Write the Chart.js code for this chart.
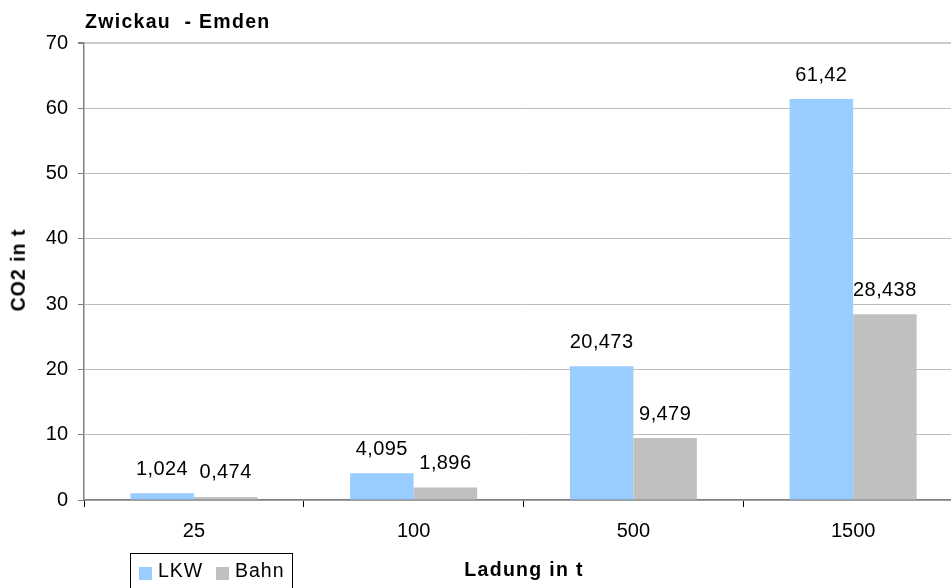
<!DOCTYPE html>
<html>
<head>
<meta charset="utf-8">
<script src="https://cdn.jsdelivr.net/npm/chart.js@4/dist/chart.umd.min.js"></script>
<style>
  html, body { margin: 0; padding: 0; background: #fff; overflow: hidden; }
  #wrap { position: relative; width: 951px; height: 588px; overflow: hidden; font-family: "Liberation Sans", Arial, sans-serif; }
  #cv { position: absolute; left: 0; top: 0; }
  .t { position: absolute; white-space: pre; color: #000; line-height: 1.15; }
  #title { left: 85px; top: 10px; font-weight: bold; font-size: 19.5px; letter-spacing: 1.3px; }
  #ytitle { left: 18px; top: 270px; font-weight: bold; font-size: 19.5px; letter-spacing: 1px; transform: translate(-50%, -50%) rotate(-90deg); }
  #xtitle { left: 524px; top: 558px; font-weight: bold; font-size: 19.5px; letter-spacing: 1.3px; transform: translateX(-50%); }
  #legend { position: absolute; left: 130px; top: 553px; width: 163px; height: 40px; border: 1px solid #000; box-sizing: border-box; font-size: 19.5px; letter-spacing: 1px; }
  .sw { position: absolute; width: 13px; height: 13px; top: 13px; }
  .lt { position: absolute; top: 5px; }
</style>
</head>
<body>
<div id="wrap">
  <canvas id="cv" width="975" height="588"></canvas>
  <div class="t" id="title">Zwickau  - Emden</div>
  <div class="t" id="ytitle">CO2 in t</div>
  <div class="t" id="xtitle">Ladung in t</div>
  <div id="legend">
    <div class="sw" style="left:8px;background:#99CCFF"></div><div class="t lt" style="left:27px">LKW</div>
    <div class="sw" style="left:85px;background:#C0C0C0"></div><div class="t lt" style="left:104px">Bahn</div>
  </div>
</div>
<script>
// Freight volumes (t) and resulting CO2 emissions (t)
const categories = ['25', '100', '500', '1500'];
const lkwValues  = [1.024, 4.095, 20.473, 61.42];
const bahnValues = [0.474, 1.896, 9.479, 28.438];
const yTicks     = [0, 10, 20, 30, 40, 50, 60, 70];

const FONT = '"Liberation Sans", Arial, sans-serif';

// Writes each bar's value above it, with a decimal comma
const valueLabels = {
  id: 'valueLabels',
  afterDatasetsDraw(chart) {
    const ctx = chart.ctx;
    ctx.save();
    ctx.font = '20px ' + FONT;
    if ('letterSpacing' in ctx) ctx.letterSpacing = '0.4px';
    ctx.fillStyle = '#000';
    ctx.textAlign = 'center';
    ctx.textBaseline = 'middle';
    chart.data.datasets.forEach((ds, i) => {
      chart.getDatasetMeta(i).data.forEach((bar, j) => {
        const txt = String(ds.data[j]).replace('.', ',');
        ctx.fillText(txt, bar.x, bar.y - 24);
      });
    });
    ctx.restore();
  }
};

new Chart(document.getElementById('cv'), {
  type: 'bar',
  data: {
    labels: categories,
    datasets: [
      { label: 'LKW',  data: lkwValues,  backgroundColor: '#99CCFF', borderWidth: 0 },
      { label: 'Bahn', data: bahnValues, backgroundColor: '#C0C0C0', borderWidth: 0 }
    ]
  },
  options: {
    responsive: false,
    animation: false,
    layout: { padding: { top: 43, right: 12, bottom: 0, left: 0 } },
    datasets: { bar: { categoryPercentage: 0.578, barPercentage: 1.0 } },
    plugins: { legend: { display: false }, title: { display: false }, tooltip: { enabled: false } },
    scales: {
      x: {
        afterFit(s) { s.height = 88; },
        grid: { display: true, drawOnChartArea: false, drawTicks: true, tickLength: 7, tickColor: '#000', offset: true },
        border: { color: '#808080', width: 1.5 },
        ticks: { font: { family: FONT, size: 20 }, color: '#000', padding: 12 }
      },
      y: {
        min: 0, max: 70,
        afterFit(s) { s.width = 84; },
        afterBuildTicks(s) { s.ticks = yTicks.map(v => ({ value: v })); },
        grid: {
          color: ctx => ctx.tick && ctx.tick.value === 70 ? '#cccccc' : '#bdbdbd',
          lineWidth: ctx => ctx.tick && ctx.tick.value === 70 ? 2 : 1,
          tickLength: 6, tickColor: '#808080'
        },
        border: { color: '#808080', width: 1.5 },
        ticks: { font: { family: FONT, size: 20 }, color: '#000', padding: 10 }
      }
    }
  },
  plugins: [valueLabels]
});
</script>
</body>
</html>
